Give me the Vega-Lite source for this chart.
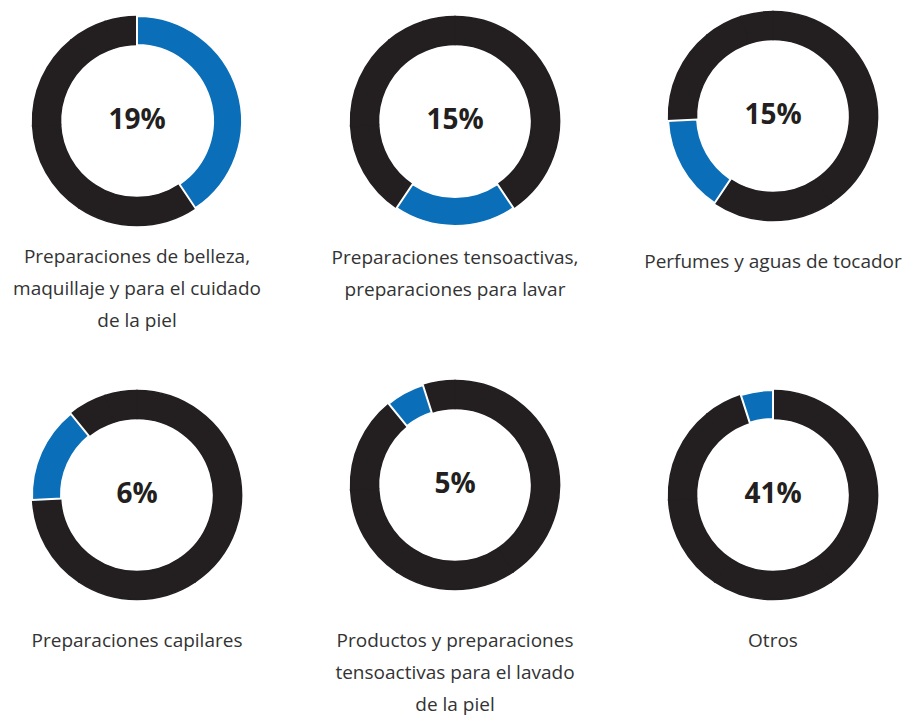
{
  "$schema": "https://vega.github.io/schema/vega-lite/v6.json",
  "padding": {"left": 12, "top": 8, "right": 0, "bottom": 0},
  "background": "white",
  "datasets": {
    "shares": [
      {"cat": "A", "value": 41, "rank": 1},
      {"cat": "B", "value": 19, "rank": 2},
      {"cat": "C", "value": 15, "rank": 3},
      {"cat": "D", "value": 15, "rank": 4},
      {"cat": "E", "value": 6, "rank": 5},
      {"cat": "F", "value": 5, "rank": 6}
    ],
    "labels": [
      {"panel": "A", "pct": "19%"},
      {"panel": "B", "pct": "15%"},
      {"panel": "C", "pct": "15%"},
      {"panel": "D", "pct": "6%"},
      {"panel": "E", "pct": "5%"},
      {"panel": "F", "pct": "41%"}
    ]
  },
  "config": {
    "view": {"stroke": null},
    "title": {"font": "Open Sans", "fontSize": 19, "fontWeight": "normal", "color": "#333333", "lineHeight": 32, "anchor": "middle"}
  },
  "bounds": "flush",
  "columns": 3,
  "spacing": {"row": 164, "column": 68},
  "concat": [
    {
      "width": 250, "height": 210,
      "title": {"text": ["Preparaciones de belleza,", "maquillaje y para el cuidado", "de la piel"], "orient": "bottom", "frame": "group", "offset": 34, "baseline": "alphabetic"},
      "layer": [
        {"data": {"name": "shares"}, "mark": {"type": "arc", "outerRadius": 104.5, "innerRadius": 76.5, "strokeWidth": 1.5},
         "encoding": {"theta": {"field": "value", "type": "quantitative", "stack": true}, "order": {"field": "rank", "type": "quantitative"},
           "color": {"condition": {"test": "datum.cat === 'A'", "value": "#0a6fb8"}, "value": "#231f20"},
           "stroke": {"condition": {"test": "datum.cat === 'A'", "value": "#0a6fb8"}, "value": "#231f20"}}},
        {"data": {"name": "shares"}, "mark": {"type": "arc", "outerRadius": 105, "innerRadius": 76, "fillOpacity": 0, "stroke": "white", "strokeWidth": 2},
         "encoding": {"theta": {"field": "value", "type": "quantitative", "stack": true}, "order": {"field": "rank", "type": "quantitative"},
           "strokeOpacity": {"condition": {"test": "datum.cat === 'A'", "value": 1}, "value": 0}}},
        {"data": {"name": "labels"}, "transform": [{"filter": "datum.panel === 'A'"}],
         "mark": {"type": "text", "font": "Open Sans", "fontWeight": "bold", "fontSize": 28, "color": "#231f20", "baseline": "middle", "align": "center"},
         "encoding": {"text": {"field": "pct", "type": "nominal"}}}
      ]
    },
    {
      "width": 250, "height": 210,
      "title": {"text": ["Preparaciones tensoactivas,", "preparaciones para lavar"], "orient": "bottom", "frame": "group", "offset": 34, "baseline": "alphabetic"},
      "layer": [
        {"data": {"name": "shares"}, "mark": {"type": "arc", "outerRadius": 104.5, "innerRadius": 76.5, "strokeWidth": 1.5},
         "encoding": {"theta": {"field": "value", "type": "quantitative", "stack": true}, "order": {"field": "rank", "type": "quantitative"},
           "color": {"condition": {"test": "datum.cat === 'B'", "value": "#0a6fb8"}, "value": "#231f20"},
           "stroke": {"condition": {"test": "datum.cat === 'B'", "value": "#0a6fb8"}, "value": "#231f20"}}},
        {"data": {"name": "shares"}, "mark": {"type": "arc", "outerRadius": 105, "innerRadius": 76, "fillOpacity": 0, "stroke": "white", "strokeWidth": 2},
         "encoding": {"theta": {"field": "value", "type": "quantitative", "stack": true}, "order": {"field": "rank", "type": "quantitative"},
           "strokeOpacity": {"condition": {"test": "datum.cat === 'B'", "value": 1}, "value": 0}}},
        {"data": {"name": "labels"}, "transform": [{"filter": "datum.panel === 'B'"}],
         "mark": {"type": "text", "font": "Open Sans", "fontWeight": "bold", "fontSize": 28, "color": "#231f20", "baseline": "middle", "align": "center"},
         "encoding": {"text": {"field": "pct", "type": "nominal"}}}
      ]
    },
    {
      "width": 250, "height": 200,
      "title": {"text": "Perfumes y aguas de tocador", "orient": "bottom", "frame": "group", "offset": 44, "baseline": "alphabetic"},
      "layer": [
        {"data": {"name": "shares"}, "mark": {"type": "arc", "outerRadius": 104.5, "innerRadius": 76.5, "strokeWidth": 1.5},
         "encoding": {"theta": {"field": "value", "type": "quantitative", "stack": true}, "order": {"field": "rank", "type": "quantitative"},
           "color": {"condition": {"test": "datum.cat === 'C'", "value": "#0a6fb8"}, "value": "#231f20"},
           "stroke": {"condition": {"test": "datum.cat === 'C'", "value": "#0a6fb8"}, "value": "#231f20"}}},
        {"data": {"name": "shares"}, "mark": {"type": "arc", "outerRadius": 105, "innerRadius": 76, "fillOpacity": 0, "stroke": "white", "strokeWidth": 2},
         "encoding": {"theta": {"field": "value", "type": "quantitative", "stack": true}, "order": {"field": "rank", "type": "quantitative"},
           "strokeOpacity": {"condition": {"test": "datum.cat === 'C'", "value": 1}, "value": 0}}},
        {"data": {"name": "labels"}, "transform": [{"filter": "datum.panel === 'C'"}],
         "mark": {"type": "text", "font": "Open Sans", "fontWeight": "bold", "fontSize": 28, "color": "#231f20", "baseline": "middle", "align": "center"},
         "encoding": {"text": {"field": "pct", "type": "nominal"}}}
      ]
    },
    {
      "width": 250, "height": 210,
      "title": {"text": "Preparaciones capilares", "orient": "bottom", "frame": "group", "offset": 44, "baseline": "alphabetic"},
      "layer": [
        {"data": {"name": "shares"}, "mark": {"type": "arc", "outerRadius": 104.5, "innerRadius": 76.5, "strokeWidth": 1.5},
         "encoding": {"theta": {"field": "value", "type": "quantitative", "stack": true}, "order": {"field": "rank", "type": "quantitative"},
           "color": {"condition": {"test": "datum.cat === 'D'", "value": "#0a6fb8"}, "value": "#231f20"},
           "stroke": {"condition": {"test": "datum.cat === 'D'", "value": "#0a6fb8"}, "value": "#231f20"}}},
        {"data": {"name": "shares"}, "mark": {"type": "arc", "outerRadius": 105, "innerRadius": 76, "fillOpacity": 0, "stroke": "white", "strokeWidth": 2},
         "encoding": {"theta": {"field": "value", "type": "quantitative", "stack": true}, "order": {"field": "rank", "type": "quantitative"},
           "strokeOpacity": {"condition": {"test": "datum.cat === 'D'", "value": 1}, "value": 0}}},
        {"data": {"name": "labels"}, "transform": [{"filter": "datum.panel === 'D'"}],
         "mark": {"type": "text", "font": "Open Sans", "fontWeight": "bold", "fontSize": 28, "color": "#231f20", "baseline": "middle", "align": "center"},
         "encoding": {"text": {"field": "pct", "type": "nominal"}}}
      ]
    },
    {
      "width": 250, "height": 190,
      "title": {"text": ["Productos y preparaciones", "tensoactivas para el lavado", "de la piel"], "orient": "bottom", "frame": "group", "offset": 54, "baseline": "alphabetic"},
      "layer": [
        {"data": {"name": "shares"}, "mark": {"type": "arc", "outerRadius": 104.5, "innerRadius": 76.5, "strokeWidth": 1.5},
         "encoding": {"theta": {"field": "value", "type": "quantitative", "stack": true}, "order": {"field": "rank", "type": "quantitative"},
           "color": {"condition": {"test": "datum.cat === 'E'", "value": "#0a6fb8"}, "value": "#231f20"},
           "stroke": {"condition": {"test": "datum.cat === 'E'", "value": "#0a6fb8"}, "value": "#231f20"}}},
        {"data": {"name": "shares"}, "mark": {"type": "arc", "outerRadius": 105, "innerRadius": 76, "fillOpacity": 0, "stroke": "white", "strokeWidth": 2},
         "encoding": {"theta": {"field": "value", "type": "quantitative", "stack": true}, "order": {"field": "rank", "type": "quantitative"},
           "strokeOpacity": {"condition": {"test": "datum.cat === 'E'", "value": 1}, "value": 0}}},
        {"data": {"name": "labels"}, "transform": [{"filter": "datum.panel === 'E'"}],
         "mark": {"type": "text", "font": "Open Sans", "fontWeight": "bold", "fontSize": 28, "color": "#231f20", "baseline": "middle", "align": "center"},
         "encoding": {"text": {"field": "pct", "type": "nominal"}}}
      ]
    },
    {
      "width": 250, "height": 210,
      "title": {"text": "Otros", "orient": "bottom", "frame": "group", "offset": 44, "baseline": "alphabetic"},
      "layer": [
        {"data": {"name": "shares"}, "mark": {"type": "arc", "outerRadius": 104.5, "innerRadius": 76.5, "strokeWidth": 1.5},
         "encoding": {"theta": {"field": "value", "type": "quantitative", "stack": true}, "order": {"field": "rank", "type": "quantitative"},
           "color": {"condition": {"test": "datum.cat === 'F'", "value": "#0a6fb8"}, "value": "#231f20"},
           "stroke": {"condition": {"test": "datum.cat === 'F'", "value": "#0a6fb8"}, "value": "#231f20"}}},
        {"data": {"name": "shares"}, "mark": {"type": "arc", "outerRadius": 105, "innerRadius": 76, "fillOpacity": 0, "stroke": "white", "strokeWidth": 2},
         "encoding": {"theta": {"field": "value", "type": "quantitative", "stack": true}, "order": {"field": "rank", "type": "quantitative"},
           "strokeOpacity": {"condition": {"test": "datum.cat === 'F'", "value": 1}, "value": 0}}},
        {"data": {"name": "labels"}, "transform": [{"filter": "datum.panel === 'F'"}],
         "mark": {"type": "text", "font": "Open Sans", "fontWeight": "bold", "fontSize": 28, "color": "#231f20", "baseline": "middle", "align": "center"},
         "encoding": {"text": {"field": "pct", "type": "nominal"}}}
      ]
    }
  ]
}
